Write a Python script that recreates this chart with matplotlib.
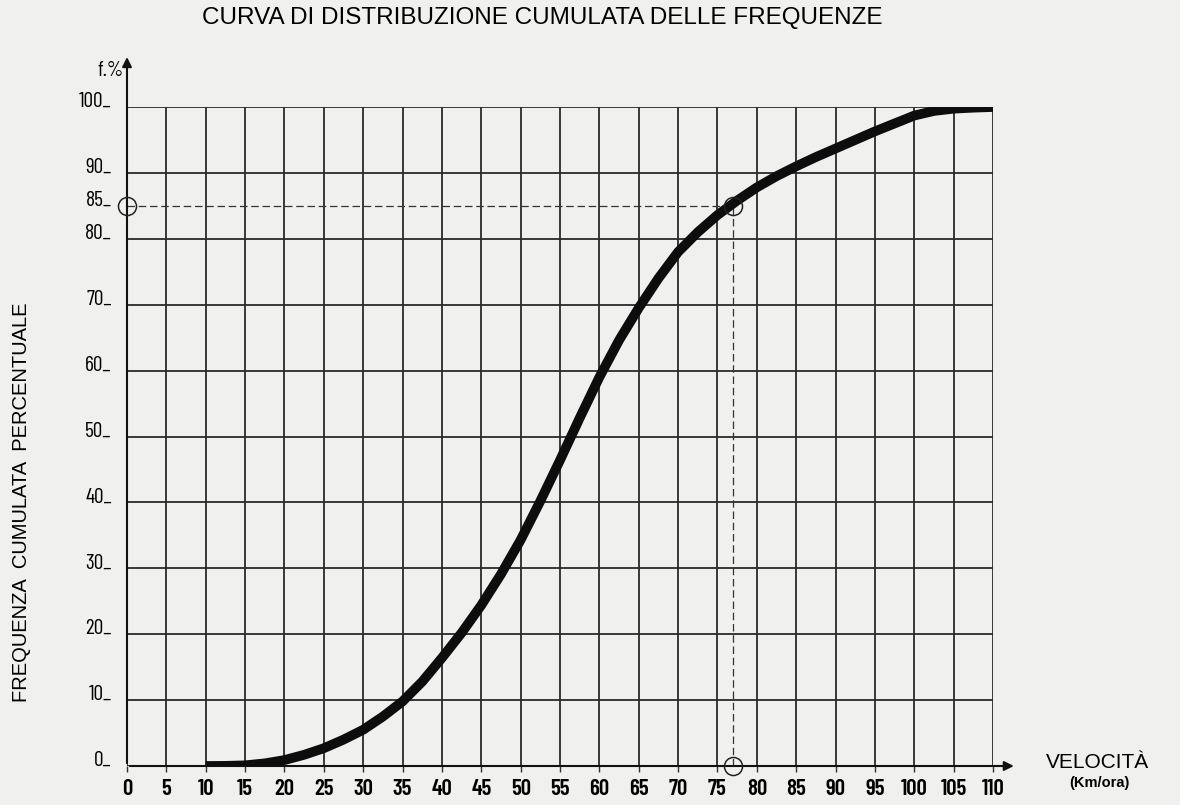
import matplotlib
matplotlib.use("Agg")
import matplotlib.pyplot as plt

# ---- data ----
speed = [10, 12.5, 15, 17.5, 20, 22.5, 25, 27.5, 30, 32.5, 35, 37.5, 40, 42.5, 45, 47.5,
         50, 52.5, 55, 57.5, 60, 62.5, 65, 67.5, 70, 72.5, 75, 77.5, 80, 82.5, 85, 87.5,
         90, 92.5, 95, 97.5, 100, 102.5, 105, 107.5, 110]
cum_freq = [0.0, 0.02, 0.1, 0.4, 0.9, 1.7, 2.7, 4.0, 5.5, 7.5, 9.8, 12.8, 16.4, 20.2, 24.4, 29.1,
            34.3, 40.2, 46.4, 52.8, 59.0, 64.6, 69.5, 74.0, 78.0, 81.0, 83.6, 85.8, 87.8, 89.5, 91.0, 92.4,
            93.7, 95.0, 96.3, 97.5, 98.7, 99.4, 99.75, 99.9, 100.0]
x_ticks = list(range(0, 111, 5))
y_ticks = [0, 10, 20, 30, 40, 50, 60, 70, 80, 85, 90, 100]
y_grid = list(range(0, 101, 10))
ref_speed = 77
ref_freq = 85

title = "CURVA DI DISTRIBUZIONE CUMULATA DELLE FREQUENZE"
ylabel = "FREQUENZA  CUMULATA  PERCENTUALE"

cond = ['Barlow Condensed', 'DejaVu Sans']
sans = ['Liberation Sans', 'DejaVu Sans']

bg = '#f0f0ee'
fig = plt.figure(figsize=(11.8, 8.05), dpi=100, facecolor=bg)
ax = fig.add_axes([127/1180, 39/805, 866/1180, 659/805], facecolor=bg)
ax.set_xlim(0, 110)
ax.set_ylim(0, 100)

gc = '#2a2a2a'
for xv in x_ticks:
    ax.axvline(xv, color=gc, lw=1.3, zorder=1)
for yv in y_grid:
    ax.axhline(yv, color=gc, lw=1.3, zorder=1)

for s in ax.spines.values():
    s.set_visible(False)

# axes arrows
ax.annotate('', xy=(0, 108), xytext=(0, 0), xycoords='data',
            arrowprops=dict(arrowstyle='-|>', color='#111', lw=1.5, mutation_scale=14),
            annotation_clip=False)
ax.annotate('', xy=(113, 0), xytext=(0, 0), xycoords='data',
            arrowprops=dict(arrowstyle='-|>', color='#111', lw=1.5, mutation_scale=14),
            annotation_clip=False)

# reference dashed lines
ax.plot([0, ref_speed], [ref_freq, ref_freq], color='#333', lw=0.9, ls=(0, (6, 3)), zorder=2)
ax.plot([ref_speed, ref_speed], [0, ref_freq], color='#333', lw=0.9, ls=(0, (6, 3)), zorder=2)

# curve
ax.plot(speed, cum_freq, color='#0d0d0d', lw=7, solid_capstyle='butt',
        solid_joinstyle='round', zorder=3)

# circles
ax.plot([0, ref_speed, ref_speed], [ref_freq, ref_freq, 0], 'o', ms=13, mfc='none',
        mec='#222', mew=1.1, zorder=4, clip_on=False)

ax.set_xticks(x_ticks)
ax.set_xticklabels([str(v) for v in x_ticks], family=cond, fontsize=16.5, fontweight='semibold')
ax.tick_params(axis='x', length=4, width=1, direction='out', pad=5, color='#333')
ax.set_yticks(y_ticks)
ax.set_yticklabels([f"{v}_" for v in y_ticks], family=cond, fontsize=15.5)
ax.tick_params(axis='y', length=0, pad=11)
for lab in ax.get_yticklabels():
    lab.set_verticalalignment('baseline')

fig.text(542/1180, 1 - 18/805, title, ha='center', va='center', family=sans, fontsize=17.5)
fig.text(22/1180, 1 - 502/805, ylabel, ha='center', va='center', rotation=90,
         family=sans, fontsize=14.5)
fig.text(110/1180, 1 - 70/805, "f.%", ha='center', va='center', family=cond, fontsize=15)
fig.text(1097/1180, 1 - 762/805, "VELOCITÀ", ha='center', va='center', family=sans, fontsize=15)
fig.text(1099/1180, 1 - 783/805, "(Km/ora)", ha='center', va='center', family=sans,
         fontsize=10.5, fontweight='bold')

fig.savefig('out.png', dpi=100, facecolor=bg)
